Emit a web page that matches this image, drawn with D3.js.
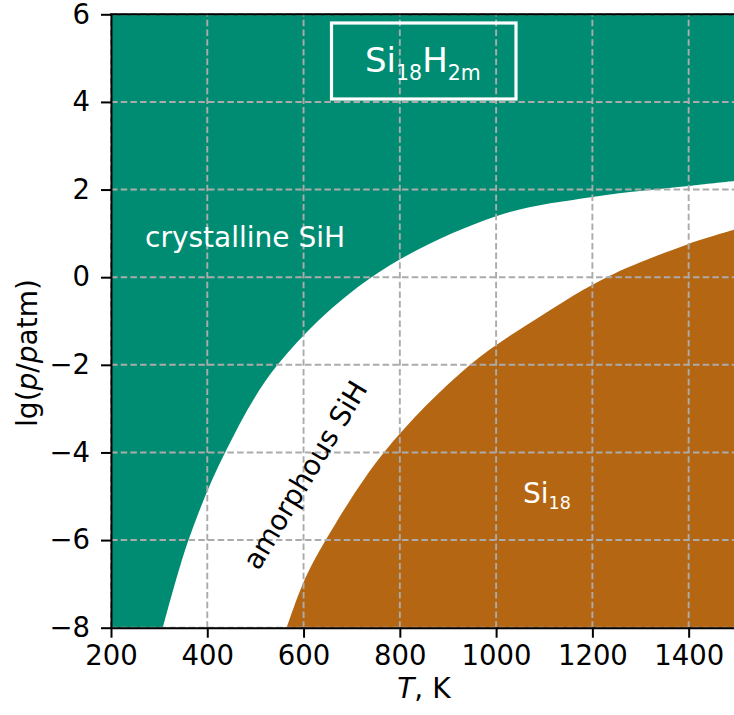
<!DOCTYPE html>
<html>
<head>
<meta charset="utf-8">
<script src="https://cdn.jsdelivr.net/npm/d3@7"></script>
<style>
  body { margin: 0; background: #fff; }
  text { font-family: 'DejaVu Sans', sans-serif; }
</style>
</head>
<body>
<div id="chart"></div>
<script>
// boundary between crystalline SiH and amorphous SiH
const tUpper = [308, 361, 437, 546, 741, 1000, 1200, 1400, 1500]
const lgUpper = [-8, -6, -4, -2, 0, 1.39, 1.83, 2.08, 2.2]
// boundary between amorphous SiH and Si18
const tLower = [565, 600, 646, 767, 946, 1094, 1230, 1400, 1500]
const lgLower = [-8, -6.96, -6, -4, -2, -0.88, 0, 0.76, 1.1]

const xTicks = [200, 400, 600, 800, 1000, 1200, 1400]
const yTicks = [-8, -6, -4, -2, 0, 2, 4, 6]

const green = '#008c72'
const brown = '#b46612'

const margin = { top: 14.3, left: 111, bottom: 87.3 }
const plotW = 625.8
const plotH = 715 - margin.top - margin.bottom

const svg = d3.select('#chart')
  .append('svg')
  .attr('width', 734)
  .attr('height', 715)

const g = svg.append('g')
  .attr('transform', 'translate(' + margin.left + ',' + margin.top + ')')

const x = d3.scaleLinear().domain([200, 1500]).range([0, plotW])
const y = d3.scaleLinear().domain([-8, 6]).range([plotH, 0])

const upper = tUpper.map((t, i) => ({ t: t, v: lgUpper[i] }))
const lower = tLower.map((t, i) => ({ t: t, v: lgLower[i] }))

const area = d3.area()
  .x(d => x(d.t))
  .y0(y(-8))
  .y1(d => y(d.v))
  .curve(d3.curveCatmullRom.alpha(0.5))

g.append('rect')
  .attr('width', plotW)
  .attr('height', plotH)
  .attr('fill', green)

g.append('path').datum(upper).attr('d', area).attr('fill', '#fff')
g.append('path').datum(lower).attr('d', area).attr('fill', brown)

// grid
const grid = g.append('g')
  .attr('stroke', '#ababab')
  .attr('stroke-width', 1.9)
  .attr('stroke-dasharray', '6.5,3.2')

grid.selectAll('.gx').data(xTicks).enter().append('line')
  .attr('x1', d => x(d)).attr('x2', d => x(d))
  .attr('y1', plotH).attr('y2', 0)

grid.selectAll('.gy').data(yTicks).enter().append('line')
  .attr('y1', d => y(d)).attr('y2', d => y(d))
  .attr('x1', 0).attr('x2', plotW)

// axes
const xAxis = g.append('g')
  .attr('transform', 'translate(0,' + plotH + ')')
  .call(d3.axisBottom(x).tickValues(xTicks).tickSize(10).tickPadding(8)
    .tickFormat(d3.format('d')).tickSizeOuter(0))

const yAxis = g.append('g')
  .call(d3.axisLeft(y).tickValues(yTicks).tickSize(10).tickPadding(11)
    .tickFormat(d => d < 0 ? '\u2212' + Math.abs(d) : d).tickSizeOuter(0))

for (const ax of [xAxis, yAxis]) {
  ax.selectAll('path, line').attr('stroke', '#000').attr('stroke-width', 2)
  ax.selectAll('text')
    .attr('fill', '#000')
    .style('font-size', '27.5px')
    .style('font-family', 'DejaVu Sans')
}

g.append('line')
  .attr('x1', -1).attr('x2', plotW + 1)
  .attr('y1', 0).attr('y2', 0)
  .attr('stroke', '#000').attr('stroke-width', 2)
g.append('line')
  .attr('x1', plotW).attr('x2', plotW)
  .attr('y1', 0).attr('y2', plotH)
  .attr('stroke', '#000').attr('stroke-width', 2)

// axis labels
const xl = svg.append('text')
  .attr('x', margin.left + plotW / 2)
  .attr('y', 698)
  .attr('text-anchor', 'middle')
  .style('font-size', '28px')
xl.append('tspan').style('font-style', 'italic').text('T')
xl.append('tspan').text(', K')

const yl = svg.append('text')
  .attr('transform', 'translate(37,353) rotate(-90)')
  .attr('text-anchor', 'middle')
  .style('font-size', '28px')
yl.append('tspan').text('lg(')
yl.append('tspan').style('font-style', 'italic').text('p')
yl.append('tspan').text('/')
yl.append('tspan').style('font-style', 'italic').text('p')
yl.append('tspan').text('atm)')

// region labels
svg.append('text')
  .attr('x', 145)
  .attr('y', 247)
  .attr('fill', '#fff')
  .style('font-size', '28px')
  .text('crystalline SiH')

svg.append('text')
  .attr('transform', 'translate(305,475) rotate(-59)')
  .attr('dy', '0.35em')
  .attr('text-anchor', 'middle')
  .style('font-size', '28px')
  .text('amorphous SiH')

const si = svg.append('text')
  .attr('x', 523)
  .attr('y', 503)
  .attr('fill', '#fff')
  .style('font-size', '28px')
si.append('tspan').text('Si')
si.append('tspan').attr('dy', 6).style('font-size', '17.5px').text('18')

// title box
svg.append('rect')
  .attr('x', 331.5)
  .attr('y', 23)
  .attr('width', 184.5)
  .attr('height', 76)
  .attr('fill', 'none')
  .attr('stroke', '#fff')
  .attr('stroke-width', 3.2)

const tb = svg.append('text')
  .attr('x', 365)
  .attr('y', 71.7)
  .attr('fill', '#fff')
  .style('font-size', '34px')
tb.append('tspan').text('Si')
tb.append('tspan').attr('dy', 8.3).style('font-size', '20.5px').text('18')
tb.append('tspan').attr('dy', -8.3).text('H')
tb.append('tspan').attr('dy', 8.3).style('font-size', '20.5px').text('2m')
</script>
</body>
</html>
